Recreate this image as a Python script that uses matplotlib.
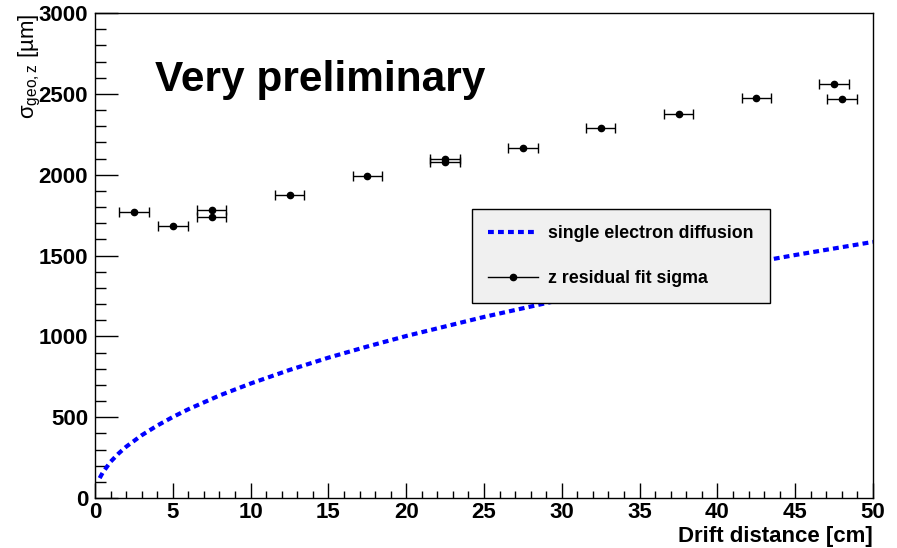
import matplotlib
matplotlib.use("Agg")
import matplotlib.pyplot as plt
from matplotlib.lines import Line2D
from matplotlib.ticker import MultipleLocator

plt.rcParams['font.family'] = ['Liberation Sans', 'DejaVu Sans']
plt.rcParams['mathtext.fontset'] = 'custom'
plt.rcParams['mathtext.rm'] = 'Liberation Sans'
plt.rcParams['mathtext.it'] = 'Liberation Sans:italic'
plt.rcParams['mathtext.bf'] = 'Liberation Sans:bold'

# measured points: z residual fit sigma
drift_x = [2.5, 5.0, 7.5, 7.5, 12.5, 17.5, 22.5, 22.5, 27.5, 32.5, 37.5, 42.5, 47.5, 48.0]
sigma_z = [1767, 1682, 1783, 1740, 1874, 1991, 2100, 2078, 2163, 2290, 2377, 2476, 2558, 2466]
x_err = [0.95] * len(drift_x)

# single electron diffusion curve
diff_x = [0.3, 0.5, 1, 1.5, 2, 3, 4, 5, 6, 8, 10, 12.5, 15, 17.5, 20, 25, 30, 35, 40, 45, 50]
diff_y = [123, 158, 224, 274, 317, 388, 448, 501, 549, 634, 708, 792, 868, 937, 1002,
          1120, 1227, 1325, 1417, 1503, 1584]

x_ticks = [0, 5, 10, 15, 20, 25, 30, 35, 40, 45, 50]
y_ticks = [0, 500, 1000, 1500, 2000, 2500, 3000]

fig = plt.figure(figsize=(8.97, 5.48), dpi=100)
ax = fig.add_axes([95 / 897, 50 / 548, 778 / 897, 485 / 548])

ax.plot(diff_x, diff_y, color='#0000ff', lw=3.0, dashes=(1.4, 1.0),
        dash_capstyle='butt', zorder=2)
ax.errorbar(drift_x, sigma_z, xerr=x_err, fmt='o', color='black', ms=4.5,
            elinewidth=1.0, capsize=3.5, capthick=1.0, zorder=3)

ax.set_xlim(0, 50)
ax.set_ylim(0, 3000)
ax.set_xticks(x_ticks)
ax.set_yticks(y_ticks)
ax.set_xticklabels([str(v) for v in x_ticks])
ax.set_yticklabels([str(v) for v in y_ticks])
ax.xaxis.set_minor_locator(MultipleLocator(1))
ax.yaxis.set_minor_locator(MultipleLocator(100))

ax.tick_params(axis='x', which='major', direction='in', length=10.5, width=1.0,
               labelsize=16, pad=3, top=False)
ax.tick_params(axis='x', which='minor', direction='in', length=5.2, width=1.0, top=False)
ax.tick_params(axis='y', which='major', direction='in', length=16.5, width=1.0,
               labelsize=16, pad=5, right=False)
ax.tick_params(axis='y', which='minor', direction='in', length=8.2, width=1.0, right=False)
for lbl in ax.get_xticklabels() + ax.get_yticklabels():
    lbl.set_fontweight('bold')
for sp in ax.spines.values():
    sp.set_linewidth(1.0)

ax.set_xlabel('Drift distance [cm]', fontsize=16, fontweight='bold', loc='right', labelpad=2)

fig.text(30 / 897, 1 - 13 / 548, r'σ$_{\mathrm{geo,z}}$ [µm]', rotation=90,
         ha='center', va='top', fontsize=16)

fig.text(155 / 897, 1 - 80 / 548, 'Very preliminary', fontsize=30.5,
         fontweight='bold', ha='left', va='center')

handles = [Line2D([], [], color='#0000ff', lw=3.0, dashes=(1.4, 1.0)),
           Line2D([], [], color='black', lw=1.0, marker='o', ms=4.5)]
leg = ax.legend(handles, ['single electron diffusion', 'z residual fit sigma'],
                loc='upper left', bbox_to_anchor=(377 / 778, 289 / 485),
                prop={'weight': 'bold', 'size': 12.8}, frameon=True, fancybox=False,
                facecolor='#f0f0f0', edgecolor='black', framealpha=1,
                handlelength=2.8, handletextpad=0.6, labelspacing=1.6,
                borderpad=0.9, borderaxespad=0)
leg.get_frame().set_linewidth(1.0)

fig.savefig('out.png', dpi=100)
